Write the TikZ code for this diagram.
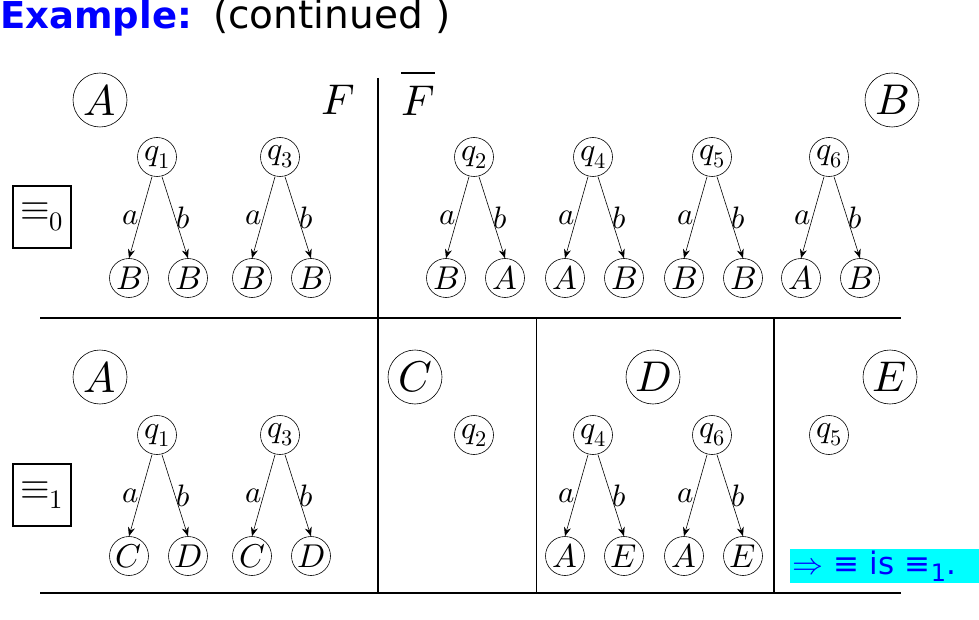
\documentclass[tikz,border=0pt]{standalone}
\usepackage{fontspec}
\usepackage{unicode-math}
\setmathfont{Latin Modern Math}
\newfontfamily\dejavu{DejaVu Sans}
\usetikzlibrary{arrows.meta}
\definecolor{titleblue}{RGB}{0,0,255}
\definecolor{hlcyan}{RGB}{0,255,255}
\tikzset{
  qn/.style={draw,circle,minimum size=39pt,inner sep=0pt,line width=0.6pt,font=\fontsize{32}{34}\selectfont},
  cn/.style={draw,circle,minimum size=39pt,inner sep=0pt,line width=0.6pt,font=\fontsize{33}{35}\selectfont},
  big/.style={draw,circle,minimum size=54pt,inner sep=0pt,line width=0.6pt,font=\fontsize{43}{45}\selectfont},
  bigplain/.style={inner sep=0pt,font=\fontsize{43}{45}\selectfont},
  arr/.style={-{Stealth[length=9pt,width=7pt]},line width=0.6pt},
  lab/.style={font=\fontsize{31}{33}\selectfont,inner sep=1pt},
  eqbox/.style={draw,line width=1.2pt,minimum width=58pt,minimum height=62pt,inner sep=0pt,font=\fontsize{38}{40}\selectfont},
  divthick/.style={line width=1.6pt},
  divthin/.style={line width=0.8pt},
}
\newcommand\mytree[6]{%
  \node[qn] (#1q) at (#2,#3) {$q_{#4}$};
  \node[cn] (#1l) at (#2-28,#3+121) {$#5$};
  \node[cn] (#1r) at (#2+31,#3+121) {$#6$};
  \draw[arr] ([xshift=-5pt]#1q.south) -- (#1l.north) node[lab,midway,left] {$a$};
  \draw[arr] ([xshift=5pt]#1q.south) -- (#1r.north) node[lab,midway,right] {$b$};
}
\begin{document}
\begin{tikzpicture}[x=1pt,y=-1pt]
\useasboundingbox (0,0) rectangle (979,620);
% title
\node[anchor=base west,inner sep=0pt,text=titleblue,font=\dejavu\bfseries\fontsize{37}{39}\selectfont] (title) at (0,29) {Example:};
\node[anchor=base west,inner sep=0pt,font=\dejavu\fontsize{39}{41}\selectfont] (cont) at (213,29) {(continued )};
% dividers
\coordinate (vt) at (378,78);
\coordinate (vb) at (378,592);
\draw[divthick] (vt) -- (vb);
\coordinate (h1l) at (40,318);
\coordinate (h1r) at (901,318);
\draw[line width=1.2pt] (h1l) -- (h1r);
\coordinate (v2t) at (536,318);
\coordinate (v2b) at (536,592);
\draw[divthin] (v2t) -- (v2b);
\coordinate (v3t) at (774,318);
\coordinate (v3b) at (774,592);
\draw[divthick] (v3t) -- (v3b);
\coordinate (h2l) at (40,593);
\coordinate (h2r) at (901,593);
\draw[line width=2.2pt] (h2l) -- (h2r);
% big labels top
\node[big] (tA) at (100,100) {$A$};
\node[bigplain] (tF) at (338,100) {$F$};
\node[bigplain] (tFb) at (418,93) {$\overline{\rule{0pt}{0.85em}F}$};
\node[big] (tB) at (892,100) {$B$};
% big labels bottom
\node[big] (bA) at (100,377) {$A$};
\node[big] (bC) at (415,377) {$C$};
\node[big] (bD) at (653,377) {$D$};
\node[big] (bE) at (890,377) {$E$};
% equivalence boxes
\node[eqbox] (e0) at (42,217) {$\equiv_0$};
\node[eqbox] (e1) at (42,495) {$\equiv_1$};
% top trees
\mytree{ta}{157}{157}{1}{B}{B}
\mytree{tb}{280}{157}{3}{B}{B}
\mytree{tc}{474}{157}{2}{B}{A}
\mytree{td}{593}{157}{4}{A}{B}
\mytree{te}{712}{157}{5}{B}{B}
\mytree{tf}{829}{157}{6}{A}{B}
% bottom trees
\mytree{ba}{157}{435}{1}{C}{D}
\mytree{bb}{280}{435}{3}{C}{D}
\node[qn] (bq2) at (474,435) {$q_{2}$};
\mytree{bd}{593}{435}{4}{A}{E}
\mytree{be}{712}{435}{6}{A}{E}
\node[qn] (bq5) at (829,435) {$q_{5}$};
% conclusion
\node[fill=hlcyan,minimum width=189pt,minimum height=34pt,inner sep=0pt,anchor=west,text width=187pt,align=left,text=titleblue,font=\dejavu\fontsize{31}{33}\selectfont] (concl) at (790,566) {\hspace{1pt}$\Rightarrow$ ≡ is ≡\raisebox{-7pt}{\fontsize{24}{26}\selectfont 1}.};
\end{tikzpicture}
\end{document}
